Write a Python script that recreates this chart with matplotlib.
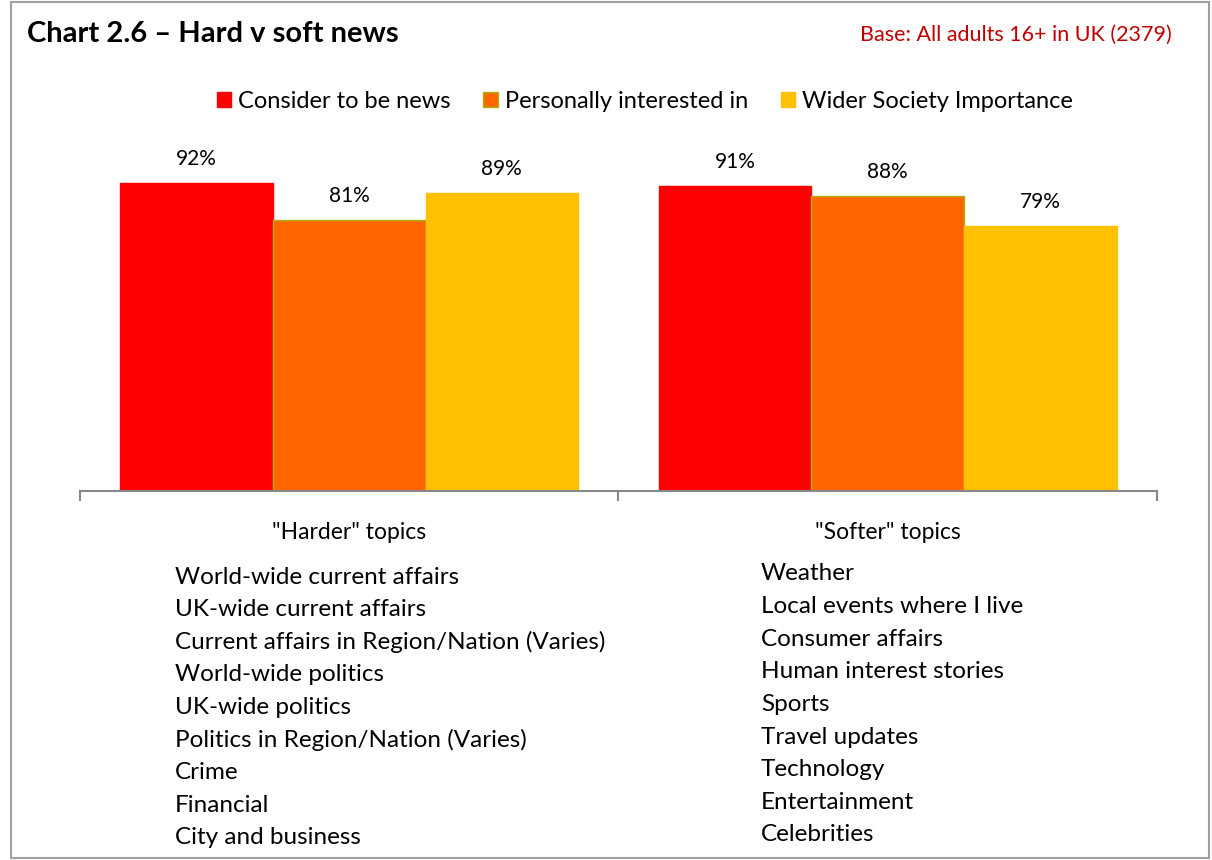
import matplotlib
matplotlib.use("Agg")
import matplotlib.pyplot as plt
from matplotlib.patches import Rectangle
import numpy as np

plt.rcParams['font.family'] = ['Lato', 'DejaVu Sans']

# data
groups = ['"Harder" topics', '"Softer" topics']
series = ['Consider to be news', 'Personally interested in', 'Wider Society Importance']
consider = [92, 91]
interested = [81, 88]
wider = [89, 79]
hard_topics = ['World-wide current affairs', 'UK-wide current affairs',
               'Current affairs in Region/Nation (Varies)', 'World-wide politics',
               'UK-wide politics', 'Politics in Region/Nation (Varies)', 'Crime',
               'Financial', 'City and business']
soft_topics = ['Weather', 'Local events where I live', 'Consumer affairs',
               'Human interest stories', 'Sports', 'Travel updates', 'Technology',
               'Entertainment', 'Celebrities']

colors = ['#FF0000', '#FF6600', '#FFC000']
edges = ['#FF0000', '#A8B400', '#FFC000']

fig = plt.figure(figsize=(12.12, 8.6), dpi=100)
ax = fig.add_axes([0.066, 0.429, 0.8886, 0.3896])

x = np.arange(len(groups))
w = 0.2833
for i, vals in enumerate([consider, interested, wider]):
    pos = x + (i - 1) * w
    bars = ax.bar(pos, vals, w, color=colors[i], edgecolor=edges[i], linewidth=1,
                  label=series[i])
    for b, v in zip(bars, vals):
        ax.annotate(f'{v}%', (b.get_x() + b.get_width() / 2, v), xytext=(0, 10),
                    textcoords='offset points', ha='center', va='bottom', fontsize=15)

ax.set_xlim(-0.5, 1.5)
ax.set_ylim(0, 100)
ax.set_yticks([])
for s in ['left', 'right', 'top']:
    ax.spines[s].set_visible(False)
ax.spines['bottom'].set_color('#888888')
ax.spines['bottom'].set_linewidth(1.5)
ax.set_xticks(x)
ax.set_xticklabels(groups, fontsize=16.5)
ax.tick_params(axis='x', which='major', length=0, pad=22)
ax.set_xticks([-0.5, 0.5, 1.5], minor=True)
ax.tick_params(axis='x', which='minor', length=7, width=1.5, color='#888888')

leg = fig.legend(loc='center', bbox_to_anchor=(0.532, 0.882), ncol=3, frameon=False,
                 fontsize=17, handlelength=0.6, handleheight=0.6, handletextpad=0.3,
                 columnspacing=1.4)

fig.text(0.022, 0.960, 'Chart 2.6 \u2013 Hard v soft news', fontsize=21, fontweight='bold',
         va='center', ha='left')
fig.text(0.967, 0.960, 'Base: All adults 16+ in UK (2379)', fontsize=15.5, color='#C00000',
         va='center', ha='right')

y0 = 860 - 577
step = 32.6
for k, t in enumerate(hard_topics):
    fig.text(175 / 1212, (y0 - k * step) / 860, t, fontsize=17.5, va='center', ha='left')
for k, t in enumerate(soft_topics):
    fig.text(761 / 1212, (y0 + 3 - k * step) / 860, t, fontsize=17.5, va='center', ha='left')

fig.add_artist(Rectangle((11 / 1212, 2 / 860), 1198 / 1212, 856 / 860,
                         transform=fig.transFigure, fill=False, edgecolor='#A0A0A0',
                         linewidth=1.5))

fig.savefig('out.png', dpi=100)
